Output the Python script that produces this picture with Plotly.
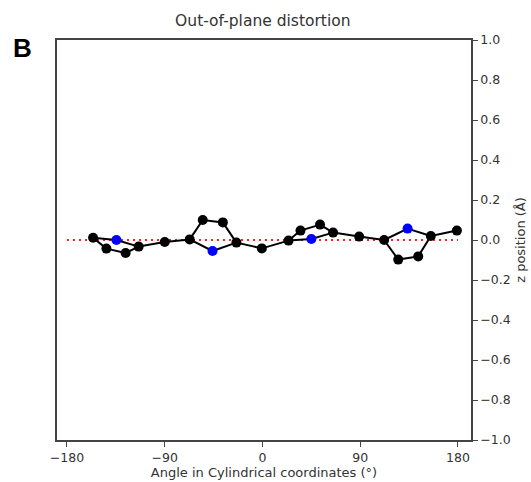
import plotly.graph_objects as go

# Atom positions: angle (deg) in cylindrical coords, z position (Å), atom type
angle = [-156, -134.5, -143.7, -126, -114, -90, -67, -55, -36.5, -46, -24,
         -0.6, 24, 35, 53, 45, 65, 89, 112, 133.6, 125, 143.4, 155, 179]
zpos = [0.011, 0.0, -0.043, -0.065, -0.033, -0.01, 0.003, 0.10, 0.088, -0.055, -0.013,
        -0.042, -0.003, 0.047, 0.077, 0.005, 0.037, 0.017, 0.0, 0.057, -0.098, -0.082, 0.02, 0.047]
atom_type = ["C", "N", "C", "C", "C", "C", "C", "C", "C", "N", "C",
             "C", "C", "C", "C", "N", "C", "C", "C", "N", "C", "C", "C", "C"]
bonds = [(0, 1), (1, 4), (0, 2), (2, 3), (3, 4), (4, 5), (5, 6),
         (6, 7), (7, 8), (8, 10), (6, 9), (9, 10), (10, 11), (11, 12),
         (12, 13), (13, 14), (14, 16), (12, 15), (15, 16), (16, 17), (17, 18),
         (18, 19), (19, 22), (18, 20), (20, 21), (21, 22), (22, 23)]
ref_x = [-180, 180]
ref_y = [0, 0]
x_ticks = [-180, -90, 0, 90, 180]
y_ticks = [-1.0, -0.8, -0.6, -0.4, -0.2, 0.0, 0.2, 0.4, 0.6, 0.8, 1.0]

bx, by = [], []
for a, b in bonds:
    bx += [angle[a], angle[b], None]
    by += [zpos[a], zpos[b], None]

colors = ["blue" if t == "N" else "black" for t in atom_type]

fig = go.Figure()
fig.add_trace(go.Scatter(x=ref_x, y=ref_y, mode="lines",
                         line=dict(color="#ff2020", width=2, dash="2px,4px"),
                         hoverinfo="skip"))
fig.add_trace(go.Scatter(x=bx, y=by, mode="lines",
                         line=dict(color="black", width=2), hoverinfo="skip"))
fig.add_trace(go.Scatter(x=angle, y=zpos, mode="markers",
                         marker=dict(color=colors, size=10, line=dict(width=0))))

axis_common = dict(showgrid=False, zeroline=False, showline=True, mirror=True,
                   linecolor="#444", linewidth=1.5, ticks="outside", ticklen=5,
                   tickcolor="#444", tickfont=dict(size=12.5, color="#333"),
                   automargin=False)

fig.update_layout(
    width=531, height=482,
    margin=dict(l=57, r=60, t=40, b=42),
    paper_bgcolor="white", plot_bgcolor="white",
    showlegend=False,
    font=dict(family="DejaVu Sans", color="#333"),
    title=dict(text="Out-of-plane distortion", x=0.495, xanchor="center",
               y=0.958, yanchor="middle", font=dict(size=15.5, color="#333")),
    xaxis=dict(range=[-189.2, 192], tickvals=x_ticks,
               title=dict(text="Angle in Cylindrical coordinates (°)",
                          font=dict(size=13), standoff=1),
               **axis_common),
    yaxis=dict(range=[-1.0, 1.0], tickvals=y_ticks, tickformat=".1f", side="right",
               title=dict(text="z position (Å)", font=dict(size=13), standoff=6),
               **axis_common),
    annotations=[dict(text="<b>B</b>", x=(22 - 57) / 414, y=(440 - 48) / 400,
                      xref="paper", yref="paper",
                      showarrow=False, font=dict(size=26, family="Liberation Sans", color="black"),
                      xanchor="center", yanchor="middle")],
)

fig.write_html("out.html")
